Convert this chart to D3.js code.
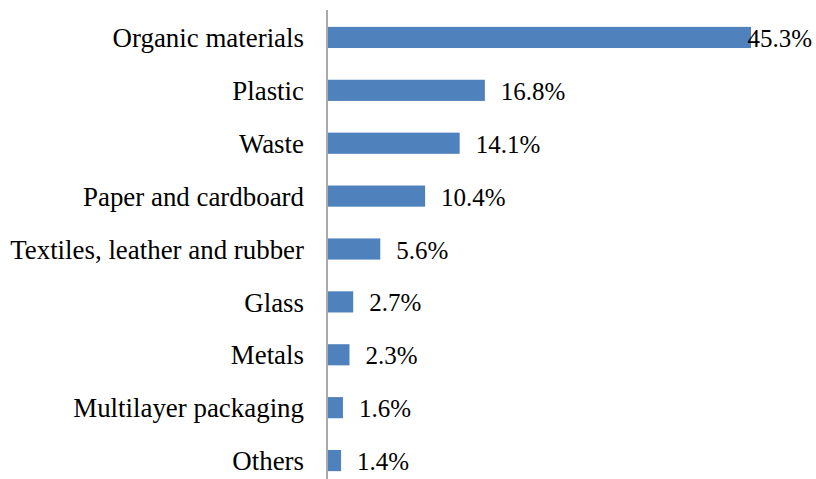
<!DOCTYPE html>
<html><head><meta charset="utf-8">
<script src="https://cdn.jsdelivr.net/npm/d3@7"></script>
<style>body{margin:0;background:#fff}svg{display:block}</style>
</head><body>
<svg id="c" width="816" height="479"></svg>
<script>
const categories = ["Organic materials","Plastic","Waste","Paper and cardboard","Textiles, leather and rubber","Glass","Metals","Multilayer packaging","Others"];
const values = [45.3,16.8,14.1,10.4,5.6,2.7,2.3,1.6,1.4];
const labels = ["45.3%","16.8%","14.1%","10.4%","5.6%","2.7%","2.3%","1.6%","1.4%"];

const svg = d3.select("#c");
const x0 = 328;
const x = d3.scaleLinear().domain([0,45.3]).range([x0,751]);
const y = d3.scaleBand().domain(categories).range([11,487]).paddingInner(0.6).paddingOuter(0.3);
const font = "'Liberation Serif', 'Times New Roman', serif";

svg.append("g").selectAll("rect").data(values).join("rect")
  .attr("x", x0).attr("y", (d,i)=>y(categories[i]) )
  .attr("width", d=>x(d)-x0).attr("height", y.bandwidth())
  .attr("fill","#4f81bd");

svg.append("line").attr("x1",327).attr("x2",327).attr("y1",10).attr("y2",479)
  .attr("stroke","#8c8c8c").attr("stroke-width",1.5);

svg.append("g").selectAll("text").data(categories).join("text")
  .attr("x", 304).attr("y", d=>y(d)+y.bandwidth()/2)
  .attr("dy","0.36em").attr("text-anchor","end")
  .style("font-family",font).style("font-size","26.9px").attr("fill","#000")
  .text(d=>d);

svg.append("g").selectAll("text").data(values).join("text")
  .attr("text-anchor", d=> x(d)+16+66 > 814 ? "end" : "start")
  .attr("x", d=> x(d)+16+66 > 814 ? 812 : x(d)+16)
  .attr("y", (d,i)=>y(categories[i])+y.bandwidth()/2)
  .attr("dy","0.38em")
  .style("font-family",font).style("font-size","25px").attr("fill","#000")
  .text((d,i)=>labels[i]);
</script>
</body></html>
